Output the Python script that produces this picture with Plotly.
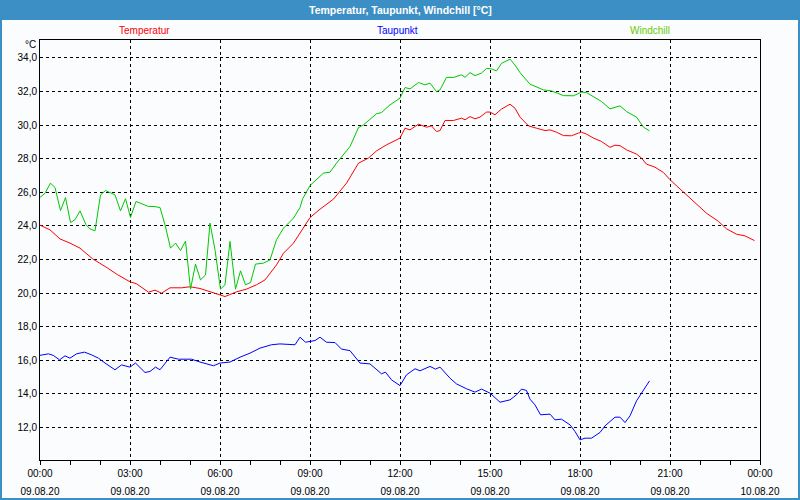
import plotly.graph_objects as go

DAY = "2020-08-09"

# ---- data ----
temp_time = ["00:00","00:20","00:40","01:00","01:20","01:45","02:15","02:35","03:00","03:13","03:37","03:50",
             "04:03","04:20","04:43","05:00","05:20","05:43","06:00","06:10","06:33","06:53","07:13","07:30",
             "07:53","08:07","08:27","08:40","09:00","09:20","09:47","10:13","10:37","10:57","11:13","11:33",
             "12:00","12:10","12:20","12:37","12:53","13:03","13:13","13:20","13:30","13:47","14:03","14:10",
             "14:20","14:30","14:40","14:53","15:00","15:10","15:23","15:40","15:50","16:00","16:17","16:33",
             "16:50","17:00","17:13","17:27","17:43","17:57","18:03","18:13","18:27","18:43","19:00","19:10",
             "19:20","19:33","19:53","20:03","20:13","20:30","20:47","21:00","21:27","21:47","22:13","22:37",
             "22:53","23:13","23:30","23:49"]
temp_val = [24.05,23.77,23.23,22.98,22.68,22.05,21.5,21.1,20.68,20.56,20.06,20.18,
            20.0,20.32,20.32,20.38,20.28,20.08,19.9,19.8,20.08,20.24,20.5,20.79,
            21.68,22.38,22.98,23.6,24.5,25.0,25.6,26.55,27.74,28.04,28.47,28.83,
            29.23,29.82,29.72,30.06,29.88,29.96,29.62,29.68,30.28,30.28,30.42,30.32,
            30.51,30.38,30.48,30.78,30.78,30.62,30.96,31.25,31.01,30.48,29.96,29.82,
            29.68,29.72,29.58,29.38,29.37,29.53,29.58,29.47,29.23,29.03,28.68,28.81,
            28.78,28.53,28.28,28.04,27.68,27.5,27.18,26.75,26.01,25.5,24.76,24.27,
            23.83,23.51,23.41,23.13]

dew_time = ["00:00","00:17","00:27","00:39","00:50","01:00","01:13","01:29","01:43","01:57","02:10","02:30",
            "02:43","03:00","03:11","03:30","03:40","03:51","04:00","04:20","04:37","05:03","05:20","05:47",
            "06:00","06:20","06:40","07:00","07:20","07:43","08:00","08:30","08:40","08:51","09:10","09:20",
            "09:33","09:50","10:03","10:20","10:40","11:00","11:23","11:31","11:43","12:00","12:13","12:30",
            "12:40","13:00","13:11","13:20","13:40","13:53","14:13","14:30","14:43","15:00","15:20","15:40",
            "15:53","16:03","16:13","16:20","16:30","16:41","17:00","17:10","17:23","17:40","17:50","18:00",
            "18:10","18:23","18:40","18:50","19:10","19:20","19:30","19:40","19:53","20:07","20:19"]
dew_val = [16.3,16.39,16.29,16.03,16.27,16.13,16.39,16.49,16.33,16.13,15.84,15.44,
           15.73,15.6,15.84,15.28,15.34,15.6,15.44,16.19,16.07,16.07,15.9,15.68,
           15.84,15.9,16.19,16.43,16.73,16.93,16.98,16.93,17.38,17.08,17.18,17.38,
           17.08,17.06,16.67,16.58,15.84,15.79,15.2,15.3,14.84,14.5,15.14,15.5,
           15.38,15.64,15.48,15.6,14.94,14.6,14.31,14.11,14.29,14.05,13.51,13.65,
           13.95,14.29,14.21,13.69,13.35,12.76,12.8,12.46,12.5,12.16,11.77,11.27,
           11.37,11.37,11.71,12.1,12.62,12.62,12.3,12.7,13.59,14.25,14.78]

wind_time = ["00:00","00:10","00:21","00:30","00:41","00:51","01:01","01:10","01:20","01:32","01:40","01:50",
             "02:01","02:11","02:30","02:41","02:51","03:01","03:12","03:37","03:48","04:00","04:10","04:21",
             "04:31","04:41","04:51","05:01","05:11","05:21","05:31","05:40","05:50","06:01","06:10","06:20",
             "06:31","06:41","06:51","07:01","07:11","07:27","07:40","07:53","08:07","08:27","08:40","08:45",
             "09:00","09:27","09:40","09:53","10:20","10:37","10:47","11:13","11:23","11:40","12:00","12:10",
             "12:20","12:37","12:50","13:00","13:13","13:20","13:33","13:47","14:03","14:10","14:20","14:30",
             "14:43","14:53","15:03","15:13","15:23","15:40","15:50","16:00","16:20","16:47","17:03","17:27",
             "17:47","18:03","18:13","18:27","18:43","19:00","19:20","19:33","19:53","20:07","20:19"]
wind_val = [25.7,25.95,26.55,26.29,24.92,25.69,24.21,24.37,24.9,24.07,23.83,23.71,
            25.85,26.11,25.85,24.9,25.62,24.51,25.46,25.16,25.16,25.1,24.07,22.68,
            22.98,22.54,23.1,20.24,21.73,20.79,21.08,24.17,22.58,20.24,20.5,23.08,
            20.24,21.33,20.5,20.63,21.73,21.79,21.98,23.18,23.87,24.47,25.1,25.6,
            26.41,27.15,27.2,27.74,28.73,29.86,30.02,30.68,30.75,31.21,31.61,32.24,
            32.16,32.54,32.4,32.5,32.0,32.1,32.85,32.84,33.0,32.85,33.13,32.95,
            33.1,33.38,33.35,33.23,33.68,33.93,33.58,33.13,32.44,32.1,32.04,31.76,
            31.75,31.97,31.94,31.7,31.41,30.97,31.15,30.81,30.48,29.88,29.66]

x_tick_dates = ["2020-08-09 00:00","2020-08-09 03:00","2020-08-09 06:00","2020-08-09 09:00",
                "2020-08-09 12:00","2020-08-09 15:00","2020-08-09 18:00","2020-08-09 21:00",
                "2020-08-10 00:00"]
x_tick_time = ["00:00","03:00","06:00","09:00","12:00","15:00","18:00","21:00","00:00"]
x_tick_day = ["09.08.20"] * 8 + ["10.08.20"]
y_ticks = [12, 14, 16, 18, 20, 22, 24, 26, 28, 30, 32, 34]

series_names = ["Temperatur", "Taupunkt", "Windchill"]
line_colors = ["#FF0000", "#0000FF", "#00C800"]
label_colors = ["#FF0000", "#0000FF", "#66CC00"]

def ts(times):
    return [f"{DAY} {t}" for t in times]

# ---- layout geometry (pixels) ----
W, H = 800, 500
L, R, T, B = 40, 40, 40, 40
PW, PH = W - L - R, H - T - B

def px(x):
    return (x - L) / PW

def py(y):
    return (H - B - y) / PH

BLUE = "#3C8FC5"
BG = "#FAFCFE"
FONT = "Liberation Sans"

fig = go.Figure()
for times, vals, color, name in [(temp_time, temp_val, line_colors[0], series_names[0]),
                                 (dew_time, dew_val, line_colors[1], series_names[1]),
                                 (wind_time, wind_val, line_colors[2], series_names[2])]:
    fig.add_trace(go.Scatter(x=ts(times), y=vals, mode="lines", name=name,
                             line=dict(color=color, width=1), showlegend=False))

# empty trace to activate the secondary (date label) axis
fig.add_trace(go.Scatter(x=[], y=[], xaxis="x2", showlegend=False, hoverinfo="skip"))

fig.update_layout(
    width=W, height=H,
    margin=dict(l=L, r=R, t=T, b=B, autoexpand=False),
    paper_bgcolor=BG, plot_bgcolor=BG,
    separators=",.",
    font=dict(family=FONT, size=10, color="#000000"),
    xaxis=dict(
        type="date",
        range=["2020-08-09 00:00", "2020-08-10 00:00"],
        tickmode="array", tickvals=x_tick_dates, ticktext=x_tick_time,
        ticks="outside", ticklen=4, tickcolor="#000000", tickwidth=1,
        ticklabelstandoff=0,
        showgrid=True, gridcolor="#000000", gridwidth=1, griddash="3px,3px",
        showline=True, linecolor="#000000", linewidth=1, mirror=True,
        zeroline=False, automargin=False,
        tickfont=dict(family=FONT, size=10, color="#000000"),
        minor=dict(dtick=3600000, tick0="2020-08-09 00:00", ticks="outside",
                   ticklen=4, tickcolor="#000000", showgrid=False),
    ),
    xaxis2=dict(
        type="date", overlaying="x", anchor="y", side="bottom",
        range=["2020-08-09 00:00", "2020-08-10 00:00"],
        tickmode="array", tickvals=x_tick_dates, ticktext=x_tick_day,
        ticks="", showgrid=False, showline=False, zeroline=False,
        ticklabelstandoff=24, automargin=False,
        tickfont=dict(family=FONT, size=10, color="#000000"),
    ),
    yaxis=dict(
        range=[10.07, 35.07],
        tickmode="array", tickvals=y_ticks, tickformat=".1f",
        ticks="", showgrid=True, gridcolor="#000000", gridwidth=1, griddash="3px,3px",
        showline=True, linecolor="#000000", linewidth=1, mirror=True,
        zeroline=False, automargin=False,
        tickfont=dict(family=FONT, size=10, color="#000000"),
    ),
    shapes=[
        dict(type="rect", xref="paper", yref="paper",
             x0=px(0), x1=px(W), y0=py(20), y1=py(0),
             fillcolor=BLUE, line=dict(width=0), layer="above"),
        dict(type="rect", xref="paper", yref="paper",
             x0=px(1), x1=px(W - 1), y0=py(H - 1), y1=py(1),
             fillcolor="rgba(0,0,0,0)", line=dict(color=BLUE, width=2), layer="above"),
    ],
    annotations=[
        dict(text="<b>Temperatur, Taupunkt, Windchill [°C]</b>", xref="paper", yref="paper",
             x=px(400), y=py(10), xanchor="center", yanchor="middle", showarrow=False,
             font=dict(family=FONT, size=10.5, color="#FFFFFF")),
        dict(text=series_names[0], xref="paper", yref="paper", x=px(144), y=py(30),
             xanchor="center", yanchor="middle", showarrow=False,
             font=dict(family=FONT, size=10, color=label_colors[0])),
        dict(text=series_names[1], xref="paper", yref="paper", x=px(397), y=py(30),
             xanchor="center", yanchor="middle", showarrow=False,
             font=dict(family=FONT, size=10, color=label_colors[1])),
        dict(text=series_names[2], xref="paper", yref="paper", x=px(650), y=py(30),
             xanchor="center", yanchor="middle", showarrow=False,
             font=dict(family=FONT, size=10, color=label_colors[2])),
        dict(text="°C", xref="paper", yref="paper", x=px(38), y=py(45),
             xanchor="right", yanchor="middle", showarrow=False,
             font=dict(family=FONT, size=10, color="#000000")),
    ],
)

fig.write_html("out.html", config={"displayModeBar": False},
               post_script="document.body.style.margin='0px';")
